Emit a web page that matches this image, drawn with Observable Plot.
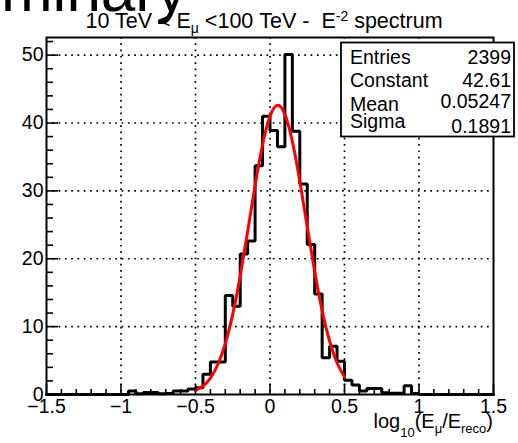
<!DOCTYPE html>
<html><head><meta charset="utf-8">
<script src="https://cdn.jsdelivr.net/npm/d3@7"></script>
<script src="https://cdn.jsdelivr.net/npm/@observablehq/plot@0.6"></script>
<style>
body{margin:0;background:#fff;}
#chart{position:relative;width:518px;height:443px;overflow:hidden;}
svg text{white-space:pre;}
</style>
</head><body><div id="chart"></div>
<script>
// ---- data ----
const binStart = -1.5;
const binWidth = 0.05;
const counts = [
  0,0,0,0,0,0,0,0,0,0,0,
  0.5,0.1,0.3,0.3,0.1,0.15,0.5,0.5,0.8,
  1.0,3.0,4.8,4.8,14.6,13.0,20.7,22.6,33.7,41.0,
  38.9,36.5,50.1,38.8,31.0,22.1,14.8,5.4,7.1,4.9,
  2.1,1.4,0.5,0.9,0.9,0.25,0.2,0.2,1.3,0.15,
  0,0,0,0,0,0,0,0,0,0
];
const fitX = [-0.5,-0.45,-0.4,-0.35,-0.3,-0.25,-0.2,-0.15,-0.1,-0.05,0,0.05,0.1,0.15,0.2,0.25,0.3,0.35,0.4,0.45,0.5];
const fitY = [0.60,1.25,2.43,4.42,7.50,11.85,17.47,24.02,30.79,36.79,41.00,42.61,41.28,37.31,31.43,24.70,18.09,12.36,7.88,4.68,2.59];
const xMajorTicks = [-1.5,-1,-0.5,0,0.5,1,1.5];
const xMinorTicks = [-1.4,-1.3,-1.2,-1.1,-0.9,-0.8,-0.7,-0.6,-0.4,-0.3,-0.2,-0.1,0.1,0.2,0.3,0.4,0.6,0.7,0.8,0.9,1.1,1.2,1.3,1.4];
const xGridTicks = [-1,-0.5,0,0.5,1];
const yMajorTicks = [0,10,20,30,40,50];
const yMinorTicks = [2,4,6,8,12,14,16,18,22,24,26,28,32,34,36,38,42,44,46,48,52];
const yGridTicks = [10,20,30,40,50];
const yMax = 52.6;
const statLabels = ["Entries","Constant","Mean","Sigma"];
const statValues = ["2399","42.61","0.05247","0.1891"];
const watermark = "Preliminary";

// ---- tables ----
const hist = counts.map((c,i)=>({x: binStart + i*binWidth, y: c}));
hist.push({x: binStart + counts.length*binWidth, y: counts[counts.length-1]});
const fit = fitX.map((x,i)=>({x, y: fitY[i]}));

const FONT = "'Liberation Sans', Arial, Helvetica, sans-serif";
const W = 518, H = 443;
const mL = 46, mR = 25, mT = 37, mB = 49;
const dots = {stroke:"#000", strokeOpacity:1, strokeWidth:1.7, strokeDasharray:"1.7,4.6"};

const svg = Plot.plot({
  width: W, height: H,
  marginLeft: mL, marginRight: mR, marginTop: mT, marginBottom: mB,
  x: {domain: [-1.5, 1.5], label: null},
  y: {domain: [0, yMax], label: null},
  style: {fontFamily: FONT, fontSize: "19.5px", color: "#000", background: "transparent", overflow: "visible"},
  marks: [
    Plot.gridX(xGridTicks, dots),
    Plot.gridY(yGridTicks, dots),
    Plot.line(hist, {x:"x", y:"y", curve:"step-after", stroke:"#000", strokeWidth:3, strokeLinejoin:"miter"}),
    Plot.line(fit, {x:"x", y:"y", curve:"natural", stroke:"#ff0000", strokeWidth:3}),
    Plot.frame({stroke:"#000", strokeWidth:2}),
    Plot.axisX(xMinorTicks, {anchor:"bottom", label:null, tickSize:-5, tickFormat:()=>"", strokeWidth:1.6}),
    Plot.axisX(xMajorTicks, {anchor:"bottom", label:null, tickSize:-10, tickFormat:()=>"", strokeWidth:1.6}),
    Plot.axisX(xMajorTicks, {anchor:"bottom", label:null, tickSize:0, tickPadding:5, fontSize:19.5, tickFormat: d => d < 0 ? "\u2212" + Math.abs(d) : String(d)}),
    Plot.axisY(yMinorTicks, {anchor:"left", label:null, tickSize:-7, tickFormat:()=>"", strokeWidth:1.6}),
    Plot.axisY(yMajorTicks, {anchor:"left", label:null, tickSize:-12, tickFormat:()=>"", strokeWidth:1.6}),
    Plot.axisY(yMajorTicks, {anchor:"left", label:null, tickSize:0, tickPadding:3, fontSize:19.5})
  ]
});
document.getElementById("chart").appendChild(svg);

const s = d3.select(svg);
// watermark (cut off at top-left, as in the reference)
s.append("text").attr("x", 187).attr("y", 11).attr("text-anchor","end")
  .attr("font-family", FONT).attr("font-size", 62).attr("fill","#000").text(watermark);

// title
const t = s.append("text").attr("x", 264).attr("y", 28).attr("text-anchor","middle")
  .attr("font-family", FONT).attr("font-size", 21.5).attr("fill","#000");
t.append("tspan").text("10 TeV < E");
t.append("tspan").attr("dy", 5).attr("font-size", 14).text("\u03bc");
t.append("tspan").attr("dy", -5).text(" <100 TeV -  E");
t.append("tspan").attr("dy", -7).attr("font-size", 14).text("-2");
t.append("tspan").attr("dy", 7).text(" spectrum");

// x axis title
const xt = s.append("text").attr("x", W - mR).attr("y", 428).attr("text-anchor","end")
  .attr("font-family", FONT).attr("font-size", 20).attr("fill","#000");
xt.append("tspan").text("log");
xt.append("tspan").attr("dy", 9).attr("font-size", 13).text("10");
xt.append("tspan").attr("dy", -9).text("(E");
xt.append("tspan").attr("dy", 5).attr("font-size", 13).text("\u03bc");
xt.append("tspan").attr("dy", -5).text("/E");
xt.append("tspan").attr("dy", 5).attr("font-size", 13).text("reco");
xt.append("tspan").attr("dy", -5).text(")");

// stats box
const bx = 341, by = 42.5, bw = 173, bh = 94;
s.append("rect").attr("x", bx).attr("y", by).attr("width", bw).attr("height", bh)
  .attr("fill","#fff").attr("stroke","#000").attr("stroke-width", 1.8);
const labelY = [64, 87, 111, 128];
const valueY = [63.5, 87, 107.5, 132.5];
statLabels.forEach((l,i)=>{
  s.append("text").attr("x", bx + 9).attr("y", labelY[i]).attr("text-anchor","start")
    .attr("font-family", FONT).attr("font-size", 19.5).attr("fill","#000").text(l);
  s.append("text").attr("x", bx + bw - 3).attr("y", valueY[i]).attr("text-anchor","end")
    .attr("font-family", FONT).attr("font-size", 19.5).attr("fill","#000").text(statValues[i]);
});
</script>
</body></html>
